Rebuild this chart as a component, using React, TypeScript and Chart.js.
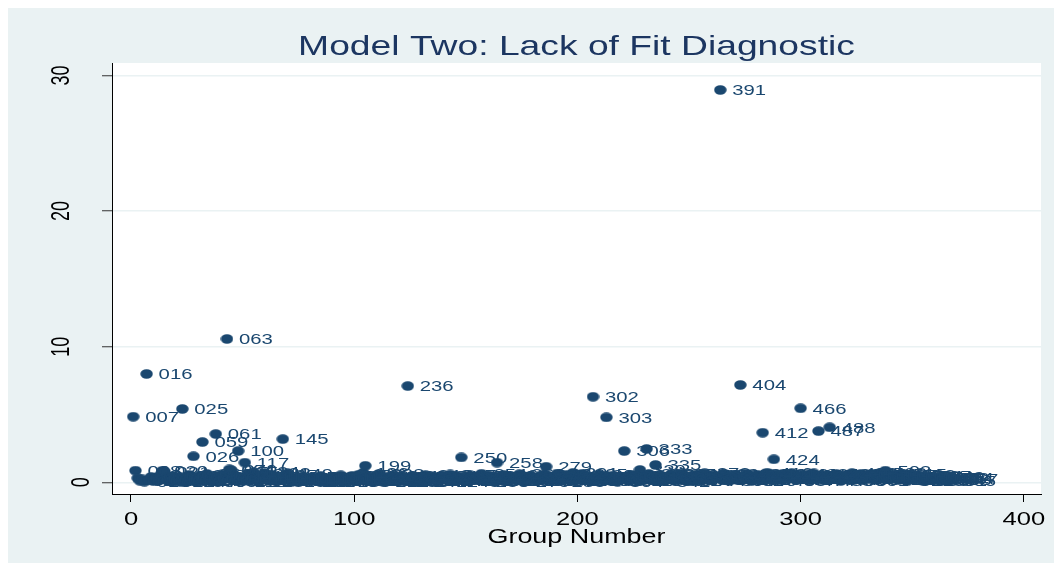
import React, { useEffect, useRef } from "react";
import { Chart, registerables } from "chart.js";

Chart.register(...registerables);

const TITLE = "Model Two: Lack of Fit Diagnostic";
const X_TITLE = "Group Number";
const X_TICK_STEP = 100;
const Y_TICK_STEP = 10;

// Lack-of-fit diagnostic for each covariate group (group number = position + 1)
const groupValues = [
  4.84, 0.86, 0.31, 0.12, 0.22, 0.05, 7.99, 0.18, 0.40, 0.09, 0.27, 0.14, 0.52, 0.85, 0.80, 0.21, 0.08, 0.33, 0.47, 0.16,
  0.29, 0.06, 5.41, 0.38, 0.11, 0.55, 0.24, 1.92, 0.13, 0.44, 0.07, 2.97, 0.35, 0.62, 0.19, 0.03, 0.28, 3.56, 0.46, 0.10,
  0.58, 0.23, 10.57, 0.95, 0.90, 0.32, 0.15, 2.31, 0.41, 0.08, 1.45, 0.36, 0.64, 0.17, 0.75, 0.26, 0.04, 0.49, 0.20, 0.70,
  0.30, 0.12, 0.57, 0.43, 0.09, 0.25, 0.38, 3.19, 0.14, 0.66, 0.22, 0.05, 0.34, 0.18, 0.27, 0.09, 0.42, 0.13, 0.31, 0.06,
  0.24, 0.37, 0.10, 0.19, 0.45, 0.08, 0.29, 0.15, 0.33, 0.04, 0.21, 0.39, 0.12, 0.52, 0.26, 0.07, 0.35, 0.17, 0.48, 0.11,
  0.28, 0.56, 0.19, 0.70, 1.22, 0.32, 0.09, 0.44, 0.23, 0.14, 0.60, 0.27, 0.06, 0.41, 0.18, 0.35, 0.10, 0.50, 0.22, 0.13,
  0.39, 0.08, 0.30, 7.10, 0.16, 0.46, 0.25, 0.11, 0.37, 0.05, 0.28, 0.53, 0.15, 0.33, 0.20, 0.42, 0.09, 0.31, 0.17, 0.48,
  0.24, 0.12, 0.58, 0.35, 0.07, 0.29, 0.44, 1.84, 0.18, 0.36, 0.10, 0.51, 0.26, 0.14, 0.40, 0.22, 0.63, 0.08, 0.32, 0.19,
  0.47, 0.27, 0.11, 1.45, 0.38, 0.16, 0.55, 0.23, 0.09, 0.34, 0.43, 0.13, 0.29, 0.60, 0.20, 0.06, 0.37, 0.25, 0.49, 0.15,
  0.31, 0.10, 0.45, 0.21, 0.58, 1.15, 0.28, 0.12, 0.40, 0.19, 0.65, 0.07, 0.33, 0.24, 0.52, 0.16, 0.42, 0.70, 0.11, 0.36,
  0.27, 0.62, 0.14, 0.45, 0.20, 0.38, 6.31, 0.09, 0.31, 0.55, 0.17, 0.43, 4.79, 0.24, 0.12, 0.50, 0.33, 0.06, 0.40, 0.22,
  2.31, 0.35, 0.15, 0.57, 0.28, 0.44, 0.10, 0.91, 0.39, 0.19, 2.46, 0.62, 0.26, 0.48, 1.28, 0.13, 0.54, 0.30, 0.08, 0.42,
  0.21, 0.60, 0.34, 0.14, 0.51, 0.27, 0.66, 0.18, 0.39, 0.09, 0.47, 0.23, 0.58, 0.32, 0.12, 0.44, 0.68, 0.25, 0.37, 0.16,
  0.53, 0.29, 0.41, 28.93, 0.20, 0.62, 0.35, 0.11, 0.48, 0.26, 0.57, 0.15, 7.18, 0.38, 0.22, 0.64, 0.31, 0.09, 0.45, 0.19,
  0.55, 0.33, 3.66, 0.42, 0.71, 0.24, 0.60, 1.70, 0.28, 0.50, 0.14, 0.63, 0.36, 0.21, 0.46, 0.67, 0.30, 0.18, 0.52, 5.46,
  0.39, 0.25, 0.58, 0.12, 0.44, 0.66, 0.31, 3.78, 0.20, 0.54, 0.37, 0.15, 4.06, 0.48, 0.27, 0.61, 0.34, 0.10, 0.43, 0.23,
  0.56, 0.32, 0.68, 0.19, 0.45, 0.29, 0.62, 0.14, 0.40, 0.53, 0.24, 0.65, 0.36, 0.17, 0.50, 0.72, 0.28, 0.86, 0.41, 0.21,
  0.58, 0.33, 0.47, 0.16, 0.62, 0.27, 0.39, 0.12, 0.55, 0.30, 0.44, 0.20, 0.51, 0.35, 0.09, 0.46, 0.26, 0.40, 0.18, 0.33,
  0.28, 0.42, 0.15, 0.36, 0.22, 0.31, 0.12, 0.25,
];

// Marker labels (ID of each group)
const groupIds = [
  7, 8, 9, 10, 11, 13, 16, 17, 18, 18, 19, 19, 20, 20, 21, 21, 22, 22, 23, 23,
  24, 24, 25, 25, 25, 25, 26, 26, 27, 30, 40, 59, 59, 60, 60, 60, 61, 61, 61, 62,
  62, 62, 63, 64, 70, 80, 90, 100, 105, 110, 117, 118, 120, 122, 124, 126, 128, 130, 131, 132,
  133, 134, 135, 136, 138, 140, 142, 145, 147, 149, 150, 152, 153, 154, 156, 157, 158, 160, 161, 162,
  164, 165, 166, 168, 169, 170, 172, 173, 175, 176, 178, 179, 180, 182, 183, 185, 186, 188, 189, 190,
  192, 193, 195, 196, 199, 200, 202, 203, 205, 206, 208, 210, 212, 213, 215, 217, 219, 221, 223, 225,
  227, 230, 233, 236, 237, 238, 239, 240, 240, 241, 241, 242, 242, 243, 243, 244, 244, 245, 245, 246,
  246, 247, 247, 248, 248, 249, 249, 250, 250, 251, 251, 252, 252, 253, 253, 254, 254, 255, 255, 255,
  256, 256, 257, 258, 259, 260, 261, 262, 263, 264, 265, 266, 267, 268, 269, 270, 271, 272, 273, 274,
  275, 275, 276, 277, 278, 279, 280, 281, 282, 283, 284, 285, 286, 287, 288, 289, 290, 291, 292, 293,
  294, 295, 296, 297, 298, 299, 302, 302, 302, 302, 303, 303, 303, 303, 304, 304, 304, 304, 305, 305,
  306, 308, 310, 312, 314, 316, 318, 320, 325, 330, 333, 333, 334, 334, 335, 336, 338, 340, 342, 344,
  346, 348, 350, 352, 354, 356, 358, 360, 362, 364, 366, 368, 370, 372, 374, 376, 378, 380, 382, 384,
  386, 388, 389, 391, 392, 393, 395, 396, 397, 398, 400, 402, 404, 405, 406, 407, 408, 409, 409, 410,
  410, 411, 412, 414, 416, 418, 420, 424, 427, 430, 433, 436, 439, 442, 445, 448, 451, 454, 460, 466,
  468, 470, 472, 474, 476, 480, 484, 487, 487, 488, 488, 488, 488, 489, 490, 491, 492, 493, 494, 495,
  496, 497, 498, 499, 500, 500, 501, 501, 501, 502, 502, 502, 502, 502, 503, 503, 503, 503, 504, 505,
  507, 509, 511, 513, 515, 517, 519, 521, 523, 525, 527, 529, 531, 533, 535, 537, 539, 541, 543, 545,
  547, 549, 551, 552, 553, 554, 555, 557,
];

const NAVY = "#1a476f";
const TITLE_COLOR = "#1c3661";
const BG = "#eaf2f3";
const FONT = "'Liberation Sans', Arial, Helvetica, sans-serif";

function stretchedText(
  ctx: CanvasRenderingContext2D,
  text: string,
  x: number,
  y: number,
  sx: number,
  size: number,
  color: string,
  align: CanvasTextAlign,
  baseline: CanvasTextBaseline,
  rotate = 0
) {
  ctx.save();
  ctx.translate(x, y);
  ctx.scale(sx, 1);
  if (rotate) ctx.rotate(rotate);
  ctx.font = `${size}px ${FONT}`;
  ctx.fillStyle = color;
  ctx.textAlign = align;
  ctx.textBaseline = baseline;
  ctx.fillText(text, 0, 0);
  ctx.restore();
}

const stataPlugin = {
  id: "stataLook",
  beforeDraw(chart: any) {
    const { ctx, chartArea, width, height } = chart;
    ctx.save();
    ctx.fillStyle = BG;
    ctx.fillRect(0, 0, width, height);
    ctx.fillStyle = "#ffffff";
    ctx.fillRect(chartArea.left, chartArea.top, chartArea.right - chartArea.left, chartArea.bottom - chartArea.top);
    ctx.restore();
  },
  afterDatasetsDraw(chart: any) {
    const { ctx } = chart;
    const meta = chart.getDatasetMeta(0);
    const labels: string[] = chart.data.datasets[0].pointLabels || [];
    meta.data.forEach((pt: any, i: number) => {
      const lab = labels[i];
      if (!lab) return;
      stretchedText(ctx, lab, pt.x + 12, pt.y + 1, 1.31, 15.5, NAVY, "left", "middle");
    });
  },
  afterDraw(chart: any) {
    const { ctx, chartArea, scales } = chart;
    const cx = (chartArea.left + chartArea.right) / 2;
    // title
    stretchedText(ctx, TITLE, cx, chartArea.top - 8, 1.33, 28, TITLE_COLOR, "center", "alphabetic");
    // x tick labels
    const xs = scales.x;
    xs.ticks.forEach((t: any) => {
      const px = xs.getPixelForValue(t.value);
      stretchedText(ctx, String(t.value), px, chartArea.bottom + 30.5, 1.42, 18, "#000", "center", "alphabetic");
    });
    // x axis title
    stretchedText(ctx, X_TITLE, cx, chartArea.bottom + 49, 1.38, 19.5, "#000", "center", "alphabetic");
    // y tick labels (rotated)
    const ys = scales.y;
    ctx.save();
    ctx.font = `18px ${FONT}`;
    ys.ticks.forEach((t: any) => {
      const py = ys.getPixelForValue(t.value);
      const txt = String(t.value);
      const w = ctx.measureText(txt).width;
      const xc = chartArea.left - 9.5 - 2 * w;
      stretchedText(ctx, txt, xc, py, 1.4, 18, "#000", "center", "middle", -Math.PI / 2);
    });
    ctx.restore();
  },
};

export default function App() {
  const canvasRef = useRef<HTMLCanvasElement | null>(null);

  useEffect(() => {
    if (!canvasRef.current) return;
    const dot = document.createElement("canvas");
    dot.width = 13;
    dot.height = 10;
    const dctx = dot.getContext("2d")!;
    dctx.fillStyle = NAVY;
    dctx.beginPath();
    dctx.ellipse(6.5, 5, 6.2, 4.8, 0, 0, Math.PI * 2);
    dctx.fill();

    const points = groupValues.map((v, i) => ({ x: i + 1, y: v }));
    const pointLabels = groupIds.map((id) => String(id).padStart(3, "0"));

    const chart = new Chart(canvasRef.current, {
      type: "scatter",
      data: {
        datasets: [
          {
            data: points,
            pointStyle: dot as any,
            pointRadius: 6,
            backgroundColor: NAVY,
            borderColor: NAVY,
            pointLabels,
          } as any,
        ],
      },
      options: {
        animation: false,
        responsive: true,
        maintainAspectRatio: false,
        devicePixelRatio: 1,
        events: [],
        layout: { padding: { left: 0, right: 13, top: 55, bottom: 0 } },
        plugins: { legend: { display: false }, tooltip: { enabled: false }, title: { display: false } },
        scales: {
          x: {
            type: "linear",
            min: -8.51,
            max: 407.7,
            afterFit: (s: any) => {
              s.height = 69;
            },
            ticks: { display: false, stepSize: X_TICK_STEP, includeBounds: false },
            grid: { drawOnChartArea: false, drawTicks: true, tickLength: 8, tickColor: "#000", tickWidth: 1 },
            border: { display: true, color: "#000", width: 1 },
          },
          y: {
            type: "linear",
            min: -0.86,
            max: 30.92,
            afterFit: (s: any) => {
              s.width = 104;
            },
            ticks: { display: false, stepSize: Y_TICK_STEP, includeBounds: false },
            grid: { drawOnChartArea: true, color: BG, lineWidth: 1.5, drawTicks: true, tickLength: 10, tickColor: "#333", tickWidth: 1 },
            border: { display: true, color: "#000", width: 1 },
          },
        },
      } as any,
      plugins: [stataPlugin],
    });
    return () => chart.destroy();
  }, []);

  return (
    <div style={{ position: "fixed", left: 8, top: 8, width: 1046, height: 555 }}>
      <canvas ref={canvasRef} />
    </div>
  );
}
